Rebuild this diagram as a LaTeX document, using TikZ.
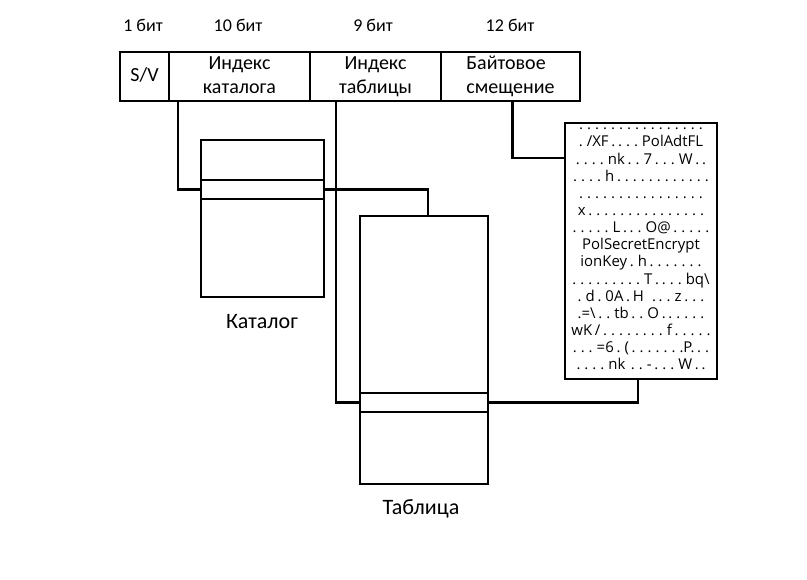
\documentclass[tikz,border=0pt]{standalone}
\usepackage{fontspec}
\setmainfont{Carlito}
\newfontfamily\dumpfont[WordSpace=0.7]{Open Sans}
\usepackage{tikz}
\usetikzlibrary{positioning}

\begin{document}
\begin{tikzpicture}[x=0.75pt, y=-0.75pt, line width=2.2pt,
  every node/.style={inner sep=0pt, outer sep=0pt},
  field/.style={draw, anchor=north west, minimum height=36.75pt, align=center, font=\fontsize{15}{18}\selectfont},
  bits/.style={font=\fontsize{13.5}{15}\selectfont},
  box/.style={draw, anchor=north west},
  row/.style={draw, anchor=north west, minimum height=14.25pt},
  caption/.style={font=\fontsize{16.5}{18}\selectfont},
  wire/.style={line cap=rect}]
  \useasboundingbox (0,0) rectangle (807,579);

  % address fields
  \node[field, minimum width=36.75pt](sv) at (120,52){S/V\strut};
  \node[field, minimum width=105.75pt](idxcat) at (169,52){Индекс\strut\\каталога\strut};
  \node[field, minimum width=98.25pt](idxtab) at (310,52){Индекс\strut\\таблицы\strut};
  \node[field, minimum width=104.25pt, align=left](offs) at (441,52){Байтовое\strut\\смещение\strut};

  \node[bits] at (143,25){1 бит};
  \node[bits] at (238,25){10 бит};
  \node[bits] at (373,25){9 бит};
  \node[bits] at (510,25){12 бит};

  % catalog
  \node[box, minimum width=92.25pt, minimum height=117.75pt](cat) at (201,140){};
  \node[row, minimum width=92.25pt](catrow) at (201,180){};
  \node[caption] at (262,322){Каталог};

  % table
  \node[box, minimum width=96pt, minimum height=201pt](tab) at (360,216){};
  \node[row, minimum width=96pt](tabrow) at (360,393){};
  \node[caption] at (421,509){Таблица};

  % page contents
  \node[box, minimum width=114pt, minimum height=192pt](mem) at (565,123){};
  \node[align=center, font=\dumpfont\fontsize{11.2}{12.85}\selectfont] at (641,249){%
    . . . . . . . . . . . . . . . .\\
    . /XF . . . . PolAdtFL\\
    . . . . nk . . 7 . . . W . .\\
    . . . . h . . . . . . . . . . . .\\
    . . . . . . . . . . . . . . . .\\
    x . . . . . . . . . . . . . . .\\
    . . . . . L . . . O@ . . . . .\\
    PolSecretEncrypt\\
    ionKey . h . . . . . . .\\
    . . . . . . . . . T . . . . bq\textbackslash\\
    . d . 0A . H \ \ . . . z . . .\\
    .=\textbackslash\ . . tb . . O . . . . . .\\
    wK / . . . . . . . . f . . . . .\\
    . . . =6 . ( . . . . . . .P. . .\\
    . . . . nk \ . . - . . . W . .};

  % connectors
  \draw[wire] ([xshift=6.75pt]idxcat.south west) |- (catrow.west);
  \draw[wire] (catrow.east) -| ([xshift=3pt]tab.north);
  \draw[wire] ([xshift=19.5pt]idxtab.south west) |- (tabrow.west);
  \draw[wire] (tabrow.east) -| ([xshift=-2.25pt]mem.south);
  \draw[wire] ([xshift=1.5pt]offs.south) |- ([yshift=-26.25pt]mem.north west);
\end{tikzpicture}
\end{document}
